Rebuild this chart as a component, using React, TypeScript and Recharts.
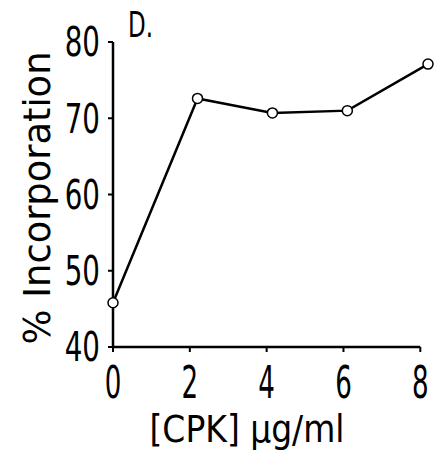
import React from 'react';
import { LineChart, Line, XAxis, YAxis, ReferenceLine, Label } from 'recharts';

// CPK concentration (ug/ml) vs % incorporation
const concentration = [0, 2.2, 4.15, 6.1, 8.2];
const incorporation = [45.8, 72.6, 70.7, 71.0, 77.1];
const xTicks = [0, 2, 4, 6, 8];
const yTicks = [40, 50, 60, 70, 80];

const data = concentration.map((c, i) => ({ cpk: c, pct: incorporation[i] }));

const FONT = "'DejaVu Sans Condensed', 'DejaVu Sans', sans-serif";

// narrow lettering like the stencil font of the original
const XTick = ({ x, y, payload }: any) => (
  <g transform={`translate(${x},${y})`}>
    <text transform="scale(0.66,1)" textAnchor="middle" dy="0.71em"
      fontFamily={FONT} fontSize={44} fill="#000">{payload.value}</text>
  </g>
);

const YTick = ({ x, y, payload }: any) => (
  <g transform={`translate(${x},${y})`}>
    <text transform="scale(0.77,1)" textAnchor="end" dy="0.36em"
      fontFamily={FONT} fontSize={40} fill="#000">{payload.value}</text>
  </g>
);

const YTitle = ({ viewBox }: any) => {
  const cx = 50;
  const cy = 198;
  return (
    <text x={cx} y={cy} transform={`rotate(-90, ${cx}, ${cy})`} textAnchor="middle"
      fontFamily={FONT} fontSize={38} fill="#000" textLength={293} lengthAdjust="spacingAndGlyphs">
      % Incorporation
    </text>
  );
};

const XTitle = () => (
  <text x={247} y={442} textAnchor="middle" fontFamily={FONT} fontSize={37} fill="#000"
    textLength={195} lengthAdjust="spacingAndGlyphs">
    [CPK] μg/ml
  </text>
);

export default function App() {
  return (
    <div style={{ position: 'absolute', left: 0, top: 0, background: '#fff' }}>
      <LineChart width={444} height={460} data={data}
        margin={{ top: 42, right: 16, bottom: 0, left: 0 }}>
        <XAxis dataKey="cpk" type="number" domain={[0, 8.2]} ticks={xTicks}
          axisLine={false} tickSize={5} tickMargin={15} height={113}
          tickLine={{ stroke: '#000', strokeWidth: 2 }} tick={<XTick />}>
          <Label content={<XTitle />} />
        </XAxis>
        <YAxis type="number" domain={[40, 80]} ticks={yTicks} width={113}
          axisLine={{ stroke: '#000', strokeWidth: 2.5 }} tickSize={5} tickMargin={8}
          tickLine={{ stroke: '#000', strokeWidth: 2 }} tick={<YTick />}>
          <Label content={<YTitle />} />
        </YAxis>
        <ReferenceLine segment={[{ x: 0, y: 40 }, { x: 8, y: 40 }]} stroke="#000" strokeWidth={2.5} />
        <Line dataKey="pct" stroke="#000" strokeWidth={2.5} isAnimationActive={false}
          dot={{ r: 5, stroke: '#000', strokeWidth: 1.5, fill: '#fff' }} />
        <text x={128} y={37} fontFamily={FONT} fontSize={36} fill="#000"
          textLength={25} lengthAdjust="spacingAndGlyphs">D.</text>
      </LineChart>
    </div>
  );
}
